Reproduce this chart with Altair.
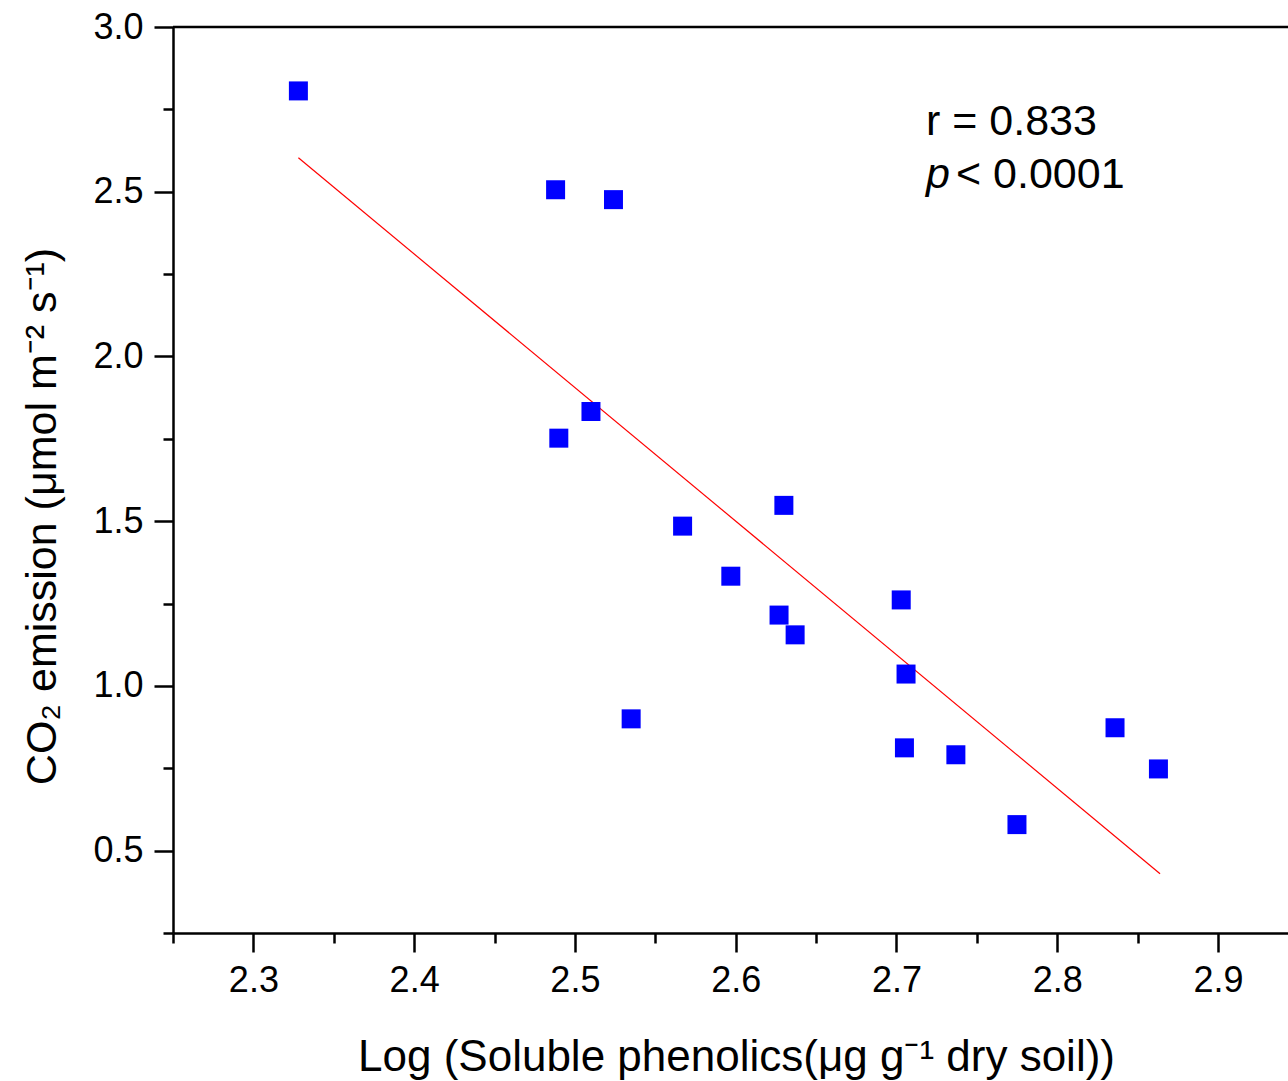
import altair as alt
import pandas as pd

# ---- data ----
phenolics_log = [2.328, 2.488, 2.524, 2.510, 2.490, 2.567, 2.630, 2.597, 2.627,
                 2.637, 2.535, 2.703, 2.706, 2.705, 2.737, 2.775, 2.836, 2.863]
co2_emission = [2.806, 2.506, 2.476, 1.833, 1.752, 1.485, 1.548, 1.333, 1.215,
                1.155, 0.900, 1.261, 1.036, 0.812, 0.791, 0.579, 0.873, 0.748]
fit_x = [2.328, 2.864]
fit_y = [2.603, 0.430]

x_ticks = [2.25, 2.3, 2.35, 2.4, 2.45, 2.5, 2.55, 2.6, 2.65, 2.7, 2.75, 2.8, 2.85, 2.9]
y_ticks = [0.25, 0.5, 0.75, 1.0, 1.25, 1.5, 1.75, 2.0, 2.25, 2.5, 2.75, 3.0]
x_domain = [2.25, 2.9436]
y_domain = [0.25, 3.0]

ann_r = ["r = 0.833"]
ann_p = ["p"]
ann_p_rest = ["< 0.0001"]

x_title = "Log (Soluble phenolics(\u03bcg g\u207b\u00b9 dry soil))"
y_title = "CO\u2082 emission (\u03bcmol m\u207b\u00b2 s\u207b\u00b9)"

FONT = "Liberation Sans"
W, H = 1115, 906

pts = pd.DataFrame({"x": phenolics_log, "y": co2_emission})
fit = pd.DataFrame({"x": fit_x, "y": fit_y})

major_x = "abs(datum.value*10 - round(datum.value*10)) < 0.001"
major_y = "abs(datum.value*2 - round(datum.value*2)) < 0.001"

xscale = alt.Scale(domain=x_domain, nice=False, zero=False)
yscale = alt.Scale(domain=y_domain, nice=False, zero=False)

xaxis = alt.Axis(
    values=x_ticks, title=x_title, grid=False,
    labelExpr=f"({major_x}) ? format(datum.value, '.1f') : ''",
    tickSize={"condition": {"test": major_x, "value": 19}, "value": 10},
    tickWidth=2.5, tickColor="black", domainColor="black", domainWidth=2.5,
    labelFont=FONT, labelFontSize=36, labelColor="black",
    labelBaseline="alphabetic", labelPadding=39, labelFlush=False,
    titleFont=FONT, titleFontSize=44, titleFontWeight="normal", titleColor="black",
    titleX=563, titleY=137, titleAlign="center", titleBaseline="alphabetic",
)
yaxis = alt.Axis(
    values=y_ticks, title=y_title, grid=False,
    labelExpr=f"({major_y}) ? format(datum.value, '.1f') : ''",
    tickSize={"condition": {"test": major_y, "value": 19}, "value": 10},
    tickWidth=2.5, tickColor="black", domainColor="black", domainWidth=2.5,
    labelFont=FONT, labelFontSize=36, labelColor="black", labelPadding=11,
    labelFlush=False,
    titleFont=FONT, titleFontSize=43, titleFontWeight="normal", titleColor="black",
    titleX=-131, titleY=489, titleAlign="center", titleBaseline="middle", titleAngle=-90,
)

points = alt.Chart(pts).mark_square(size=361, color="#0000FF", opacity=1).encode(
    x=alt.X("x:Q", scale=xscale, axis=xaxis),
    y=alt.Y("y:Q", scale=yscale, axis=yaxis),
)

line = alt.Chart(fit).mark_line(color="#FF0000", strokeWidth=1.2).encode(
    x=alt.X("x:Q", scale=xscale),
    y=alt.Y("y:Q", scale=yscale),
)

top = alt.Chart(pd.DataFrame({"a": [0]})).mark_rule(color="black", strokeWidth=2.5).encode(
    x=alt.value(0), x2=alt.value(W), y=alt.value(0)
)

t_r = alt.Chart(pd.DataFrame({"t": ann_r})).mark_text(
    font=FONT, fontSize=43, align="left", baseline="alphabetic", color="black"
).encode(x=alt.value(753), y=alt.value(108), text="t:N")
t_p = alt.Chart(pd.DataFrame({"t": ann_p})).mark_text(
    font=FONT, fontSize=43, fontStyle="italic", align="left", baseline="alphabetic", color="black"
).encode(x=alt.value(753), y=alt.value(161), text="t:N")
t_p2 = alt.Chart(pd.DataFrame({"t": ann_p_rest})).mark_text(
    font=FONT, fontSize=43, align="left", baseline="alphabetic", color="black"
).encode(x=alt.value(783), y=alt.value(161), text="t:N")

chart = alt.layer(line, points, top, t_r, t_p, t_p2).properties(
    width=W, height=H,
    autosize=alt.AutoSizeParams(type="none"),
    padding={"left": 173, "top": 27, "right": 0, "bottom": 148},
).configure_view(stroke=None).configure(background="white")

chart.save("out.html", embed_options={"renderer": "svg", "actions": False})
